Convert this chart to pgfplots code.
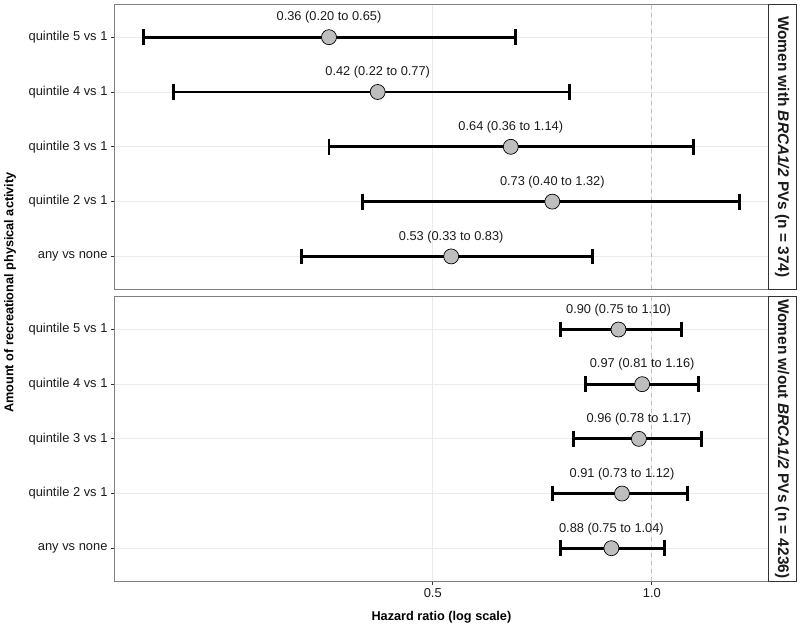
\documentclass[border=0pt]{standalone}
\usepackage{pgfplots}
\pgfplotsset{compat=1.18}
\usepackage{pgfplotstable}
\usepackage{fontspec}
\setmainfont{Liberation Sans}
\definecolor{gridc}{HTML}{EBEBEB}
\definecolor{panelc}{HTML}{7F7F7F}
\definecolor{ptfill}{HTML}{BEBEBE}
\definecolor{refc}{HTML}{C2C2C2}
\definecolor{stripc}{HTML}{333333}
\definecolor{txtc}{HTML}{1A1A1A}

\pgfplotstableread[col sep=comma]{
row,est,lo,hi,label
5,0.36,0.20,0.65,0.36 (0.20 to 0.65)
4,0.42,0.22,0.77,0.42 (0.22 to 0.77)
3,0.64,0.36,1.14,0.64 (0.36 to 1.14)
2,0.73,0.40,1.32,0.73 (0.40 to 1.32)
1,0.53,0.33,0.83,0.53 (0.33 to 0.83)
}\brcawith

\pgfplotstableread[col sep=comma]{
row,est,lo,hi,label
5,0.90,0.75,1.10,0.90 (0.75 to 1.10)
4,0.97,0.81,1.16,0.97 (0.81 to 1.16)
3,0.96,0.78,1.17,0.96 (0.78 to 1.17)
2,0.91,0.73,1.12,0.91 (0.73 to 1.12)
1,0.88,0.75,1.04,0.88 (0.75 to 1.04)
}\brcawithout

\pgfplotsset{
  myci/.style={black, line width=2.9pt, mark=|, mark size=7.9pt, mark options={solid, line width=2.9pt}},
  mypts/.style={only marks, mark=*, mark size=7.5pt,
    mark options={fill=ptfill, draw=black, line width=0.7pt},
    nodes near coords, point meta=explicit symbolic,
    nodes near coords style={anchor=center, yshift=19.5pt, text=txtc, font=\fontsize{12.8}{15}\selectfont}},
  myref/.style={refc, line width=0.9pt, dash pattern=on 4pt off 4pt},
}

\begin{document}
\begin{tikzpicture}
\useasboundingbox (0,0) rectangle (800pt,-629pt);

% top panel
\begin{semilogxaxis}[
    scale only axis, width=653.8pt, height=285pt,
    at={(114.5pt,-4.3pt)}, anchor=north west,
    xmin=0.1826, xmax=1.446, ymin=0.4, ymax=5.6,
    clip=false,
    axis line style={panelc, line width=0.9pt},
    ytick={1,2,3,4,5},
    yticklabels={any vs none, quintile 2 vs 1, quintile 3 vs 1, quintile 4 vs 1, quintile 5 vs 1},
    xtick={0.5,1}, minor xtick={},
    xticklabels={},
    grid=major, major grid style={gridc, line width=0.9pt},
    tick align=outside, xtick pos=bottom, ytick pos=left,
    major tick length=3.5pt,
    tick style={stripc, line width=0.8pt},
    xtick style={draw=none},
    yticklabel style={font=\fontsize{12.9}{15}\selectfont, text=txtc},
  ]
\addplot[myref] coordinates {(1,0.4) (1,5.6)};
\addplot[myci] coordinates {(0.20,5) (0.65,5)};
\addplot[myci] coordinates {(0.22,4) (0.77,4)};
\addplot[myci] coordinates {(0.36,3) (1.14,3)};
\addplot[myci] coordinates {(0.40,2) (1.32,2)};
\addplot[myci] coordinates {(0.33,1) (0.83,1)};
\addplot[mypts] table[x=est, y=row, meta=label] {\brcawith};
\end{semilogxaxis}

% bottom panel
\begin{semilogxaxis}[
    scale only axis, width=653.8pt, height=284.3pt,
    at={(114.5pt,-296.7pt)}, anchor=north west,
    xmin=0.1826, xmax=1.446, ymin=0.4, ymax=5.6,
    clip=false,
    axis line style={panelc, line width=0.9pt},
    ytick={1,2,3,4,5},
    yticklabels={any vs none, quintile 2 vs 1, quintile 3 vs 1, quintile 4 vs 1, quintile 5 vs 1},
    xtick={0.5,1}, minor xtick={},
    xticklabels={0.5,1.0},
    grid=major, major grid style={gridc, line width=0.9pt},
    tick align=outside, xtick pos=bottom, ytick pos=left,
    major tick length=3.5pt,
    tick style={stripc, line width=0.8pt},
    yticklabel style={font=\fontsize{12.9}{15}\selectfont, text=txtc},
    xticklabel style={font=\fontsize{12.9}{15}\selectfont, text=txtc},
  ]
\addplot[myref] coordinates {(1,0.4) (1,5.6)};
\addplot[myci] coordinates {(0.75,5) (1.10,5)};
\addplot[myci] coordinates {(0.81,4) (1.16,4)};
\addplot[myci] coordinates {(0.78,3) (1.17,3)};
\addplot[myci] coordinates {(0.73,2) (1.12,2)};
\addplot[myci] coordinates {(0.75,1) (1.04,1)};
\addplot[mypts] table[x=est, y=row, meta=label] {\brcawithout};
\end{semilogxaxis}

% strips
\draw[stripc, fill=white, line width=0.9pt] (768.3pt,-4.3pt) rectangle (796.5pt,-289.3pt);
\node[rotate=-90, font=\fontsize{15.4}{18}\selectfont\bfseries, text=txtc] at (782.2pt,-146.8pt)
  {Women with \textit{BRCA1/2} PVs (n = 374)};
\draw[stripc, fill=white, line width=0.9pt] (768.3pt,-296.7pt) rectangle (796.5pt,-581pt);
\node[rotate=-90, font=\fontsize{15.4}{18}\selectfont\bfseries, text=txtc] at (782.2pt,-438.8pt)
  {Women w/out \textit{BRCA1/2} PVs (n = 4236)};

% axis titles
\node[font=\fontsize{12.7}{15}\selectfont\bfseries, text=black] at (441.4pt,-617.5pt)
  {Hazard ratio (log scale)};
\node[rotate=90, font=\fontsize{12.7}{15}\selectfont\bfseries, text=black] at (10pt,-292.6pt)
  {Amount of recreational physical activity};
\end{tikzpicture}
\end{document}
